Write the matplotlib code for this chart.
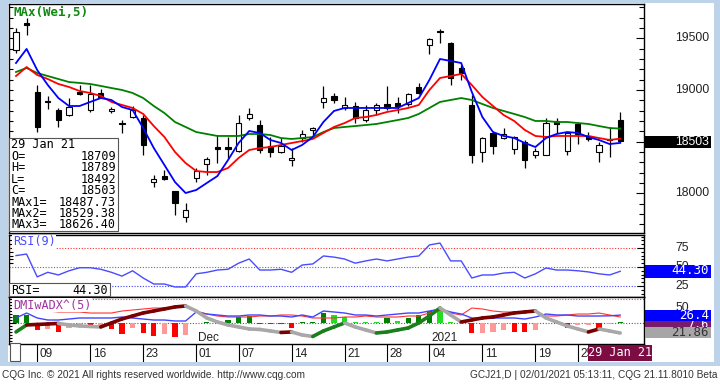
import matplotlib
matplotlib.use('Agg')
import matplotlib.pyplot as plt
from matplotlib.patches import Rectangle
from matplotlib.collections import LineCollection
from matplotlib.transforms import Affine2D, blended_transform_factory
import numpy as np
import datetime as dt

# ---------------- data ----------------
dates = ['2020-11-05', '2020-11-06', '2020-11-09', '2020-11-10', '2020-11-11', '2020-11-12', '2020-11-13',
         '2020-11-16', '2020-11-17', '2020-11-18', '2020-11-19', '2020-11-20', '2020-11-23', '2020-11-24',
         '2020-11-25', '2020-11-27', '2020-11-30', '2020-12-01', '2020-12-02', '2020-12-03', '2020-12-04',
         '2020-12-07', '2020-12-08', '2020-12-09', '2020-12-10', '2020-12-11', '2020-12-14', '2020-12-15',
         '2020-12-16', '2020-12-17', '2020-12-18', '2020-12-21', '2020-12-22', '2020-12-23', '2020-12-24',
         '2020-12-28', '2020-12-29', '2020-12-30', '2020-12-31', '2021-01-04', '2021-01-05', '2021-01-06',
         '2021-01-07', '2021-01-08', '2021-01-11', '2021-01-12', '2021-01-13', '2021-01-14', '2021-01-15',
         '2021-01-19', '2021-01-20', '2021-01-21', '2021-01-22', '2021-01-25', '2021-01-26', '2021-01-27',
         '2021-01-28', '2021-01-29']

opens = [19387, 19650, 18981, 18890, 18806, 18758, 18980, 18806, 18970, 18800, 18680, 18738, 18729, 18109,
         18168, 18022, 17771, 18148, 18284, 18448, 18448, 18410, 18729, 18661, 18458, 18400, 18322, 18535,
         18610, 18884, 18942, 18826, 18845, 18710, 18806, 18865, 18874, 18865, 19029, 19436, 19570, 19455,
         19213, 18855, 18400, 18584, 18535, 18429, 18497, 18371, 18371, 18700, 18410, 18671, 18555, 18400,
         18529, 18709]
highs = [19600, 19700, 19048, 18942, 18826, 18923, 19050, 19048, 19010, 18840, 18709, 18845, 18758, 18177,
         18226, 18022, 17906, 18245, 18351, 18564, 18545, 18758, 18826, 18710, 18545, 18535, 18439, 18613,
         18642, 19039, 18971, 18932, 18884, 18855, 18874, 19039, 18932, 18971, 19068, 19503, 19590, 19465,
         19242, 18952, 18545, 18603, 18632, 18555, 18516, 18439, 18729, 18729, 18594, 18690, 18594, 18497,
         18642, 18789]
lows = [19360, 19530, 18593, 18816, 18640, 18750, 18950, 18787, 18923, 18780, 18584, 18729, 18371, 18061,
        18129, 17790, 17722, 18109, 18177, 18293, 18342, 18400, 18710, 18390, 18352, 18390, 18264, 18497,
        18564, 18826, 18874, 18806, 18681, 18690, 18758, 18806, 18777, 18845, 18961, 19349, 19455, 19048,
        19097, 18293, 18303, 18380, 18526, 18380, 18245, 18342, 18371, 18584, 18371, 18477, 18506, 18303,
        18352, 18492]
closes = [19564, 19630, 18642, 18880, 18710, 18835, 18960, 18961, 18932, 18820, 18670, 18806, 18468, 18138,
          18138, 17906, 17838, 18216, 18332, 18429, 18429, 18681, 18768, 18419, 18400, 18458, 18342, 18574,
          18630, 18923, 18903, 18855, 18729, 18806, 18855, 18826, 18845, 18961, 18971, 19494, 19560, 19116,
          19165, 18371, 18535, 18458, 18574, 18545, 18322, 18410, 18681, 18671, 18584, 18574, 18526, 18468,
          18520, 18503]

ma1 = [19261, 19397, 19193, 19048, 18922, 18845, 18845, 18884, 18922, 18903, 18835, 18806, 18632, 18438,
       18274, 18109, 18003, 18032, 18100, 18167, 18322, 18487, 18603, 18584, 18516, 18487, 18419, 18468,
       18545, 18690, 18797, 18826, 18826, 18826, 18826, 18826, 18826, 18874, 18922, 19097, 19300, 19281,
       19261, 18981, 18738, 18593, 18555, 18535, 18487, 18448, 18535, 18574, 18593, 18584, 18545, 18516,
       18477, 18487.73]
ma2 = [19135, 19222, 19145, 19106, 19058, 19029, 18990, 18971, 18942, 18884, 18855, 18826, 18768, 18651,
       18545, 18400, 18293, 18216, 18206, 18206, 18245, 18342, 18419, 18438, 18448, 18468, 18487, 18506,
       18526, 18584, 18642, 18680, 18729, 18738, 18758, 18787, 18806, 18826, 18855, 19000, 19116, 19135,
       19155, 19048, 18932, 18845, 18758, 18700, 18613, 18555, 18545, 18555, 18555, 18555, 18555, 18535,
       18516, 18529.38]
ma3 = [19174, 19213, 19164, 19135, 19106, 19077, 19068, 19058, 19039, 19019, 19000, 18971, 18922, 18845,
       18777, 18690, 18642, 18593, 18574, 18555, 18555, 18555, 18574, 18574, 18564, 18535, 18526, 18535,
       18545, 18593, 18632, 18642, 18651, 18661, 18671, 18690, 18709, 18729, 18768, 18826, 18884, 18903,
       18922, 18903, 18864, 18826, 18797, 18768, 18738, 18700, 18700, 18690, 18690, 18680, 18671, 18651,
       18632, 18626.40]

rsi = [65, 67, 37, 43, 39.5, 45, 49, 49, 47, 43, 38, 45, 35.5, 27.6, 27.6, 23.7, 23.7, 41, 43, 46, 47, 55,
       60.5, 46, 46, 47, 43, 52.6, 54, 64.5, 63, 60.5, 55, 58, 60.5, 58, 60.5, 63, 64.5, 79, 81.5, 58, 58,
       35.5, 39.5, 39.5, 42, 43, 35.5, 41, 48.7, 46, 46, 45, 43.5, 41, 39.5, 44.30]

di_plus = [16.7, 33.3, 16.7, 10.0, 10.0, 13.3, 16.7, 16.7, 16.7, 16.7, 20.0, 16.7, 13.3, 10.0, 10.0, 6.7,
           6.7, 36.7, 30.0, 26.7, 23.3, 23.3, 26.7, 26.7, 23.3, 23.3, 20.0, 26.7, 20.0, 40.0, 36.7, 33.3,
           26.7, 26.7, 23.3, 26.7, 30.0, 33.3, 33.3, 40.0, 46.7, 36.7, 30.0, 16.7, 16.7, 16.7, 16.7, 16.7,
           13.3, 20.0, 30.0, 26.7, 26.7, 23.3, 23.3, 23.3, 24.0, 26.4]
di_minus = [43.3, 43.3, 40.0, 40.0, 36.7, 36.7, 36.7, 33.3, 33.3, 33.3, 40.0, 43.3, 46.7, 50.0, 50.0, 53.3,
            53.3, 40.0, 30.0, 23.3, 20.0, 20.0, 20.0, 23.3, 23.3, 26.7, 26.7, 23.3, 16.7, 16.7, 16.7, 20.0,
            20.0, 23.3, 20.0, 20.0, 20.0, 23.3, 23.3, 33.3, 43.3, 33.3, 26.7, 50.0, 46.7, 40.0, 36.7, 36.7,
            36.7, 40.0, 23.3, 23.3, 26.7, 30.0, 30.0, 33.3, 26.7, 20.0]
dmi_hist = [26.7, 26.7, -23.3, -20, -30, -16.7, -13.3, -16.7, -16.7, -20, -36.7, -16.7, -33.3, -43.3, -36.7,
            -46.7, -40, 0, 3.3, 6.7, 10, 20, 23.3, -3.3, -3.3, -3.3, -16.7, 3.3, 3.3, 33.3, 26.7, 20, 3.3,
            3.3, 3.3, 16.7, 6.7, 16.7, 26.7, 40, 46.7, 3.3, 0, -33.3, -33.3, -30, -23.3, -30, -30, -23.3, 0,
            0, -16.7, -6.7, -6.7, -20, -3.3, 2]
hist_state = ['G', 'G', 'R', 'r', 'R', 'r', 'r', 'R', 'r', 'R', 'R', 'r', 'R', 'R', 'r', 'R', 'r', 'G', 'G',
              'G', 'G', 'G', 'G', 'R', 'R', 'R', 'R', 'G', 'G', 'G', 'g', 'g', 'g', 'g', 'g', 'G', 'g', 'G',
              'G', 'G', 'g', 'g', 'g', 'R', 'r', 'r', 'r', 'R', 'R', 'r', 'r', 'r', 'R', 'r', 'r', 'R', 'r',
              'G']
adx = [22.9, 29.9, 30.4, 30.9, 31.4, 29.9, 28.9, 28.4, 27.9, 31.9, 35.9, 38.9, 41.9, 43.9, 45.9, 47.9, 48.9,
       43.9, 36.9, 32.9, 29.9, 27.9, 25.9, 25.4, 23.9, 22.4, 22.9, 19.9, 18.4, 23.9, 27.9, 31.9, 27.9, 24.9,
       21.9, 22.9, 24.9, 26.9, 31.9, 38.9, 46.9, 39.9, 32.9, 34.9, 36.9, 37.9, 39.9, 41.9, 42.9, 43.9, 36.9,
       32.9, 28.9, 25.9, 22.9, 25.9, 23.9, 21.86]
adx_state = ['G', 'G', 'R', 'R', 'R', 'N', 'N', 'N', 'N', 'R', 'R', 'R', 'R', 'R', 'R', 'R', 'R', 'N', 'N',
             'N', 'N', 'N', 'N', 'N', 'N', 'N', 'R', 'N', 'N', 'G', 'G', 'G', 'N', 'N', 'N', 'G', 'G', 'G',
             'G', 'G', 'G', 'N', 'N', 'R', 'R', 'R', 'R', 'R', 'R', 'R', 'N', 'N', 'N', 'N', 'N', 'R', 'N',
             'N']
dmi_last_box = '7.6'

week_ticks = ['2020-11-09', '2020-11-16', '2020-11-23', '2020-12-01', '2020-12-07', '2020-12-14',
              '2020-12-21', '2020-12-28', '2021-01-04', '2021-01-11', '2021-01-19', '2021-01-25']
month_marks = [('2020-12-01', 'Dec'), ('2021-01-04', '2021')]
price_labels = [18000, 19000, 19500]
rsi_labels = [25, 50, 75]

footer_left = 'CQG Inc. \u00a9 2021 All rights reserved worldwide. http://www.cqg.com'
footer_right = 'GCJ21,D | 02/01/2021 05:13:11, CQG 21.11.8010 Beta'

# ---------------- layout helpers ----------------
W, H = 720, 384
fig = plt.figure(figsize=(7.2, 3.84), dpi=100)
fig.patch.set_facecolor('white')
pix = Affine2D().scale(1 / W, -1 / H).translate(0, 1) + fig.transFigure

MONO = 'DejaVu Sans Mono'
SANS = 'Liberation Sans'


def box(x0, y0, x1, y1):
    return [x0 / W, 1 - y1 / H, (x1 - x0) / W, (y1 - y0) / H]


X_FIRST, X_STEP = 16.0, 10.6
PX_L, PX_R = 9, 644
XLIM = ((PX_L - X_FIRST) / X_STEP, (PX_R - X_FIRST) / X_STEP)

n = len(dates)
idx = np.arange(n)
o = np.array(opens, float)
h = np.array(highs, float)
l = np.array(lows, float)
c = np.array(closes, float)


def style_panel(ax):
    ax.set_xlim(*XLIM)
    ax.set_xticks([])
    for s in ax.spines.values():
        s.set_color('black')
        s.set_linewidth(1.0)
    ax.set_facecolor('white')


def right_ticks(ax, major, minor, maj_len=5, min_len=2.5):
    ax.yaxis.tick_right()
    ax.set_yticks(major)
    ax.set_yticks(minor, minor=True)
    ax.tick_params(axis='y', which='major', direction='in', length=maj_len, width=0.8, labelright=False)
    ax.tick_params(axis='y', which='minor', direction='in', length=min_len, width=0.8)


def left_ticks(ax, ticks):
    sec = ax.secondary_yaxis('left')
    sec.set_yticks(ticks)
    sec.tick_params(direction='in', length=3, width=0.8, labelleft=False)
    sec.spines['left'].set_visible(False)


# ---------------- frame ----------------
frame_col = '#bcd3ea'
for (x0, y0, x1, y1) in [(0, 0, 8, 366), (714, 0, 720, 366), (0, 0, 720, 3), (0, 362, 720, 366)]:
    fig.add_artist(Rectangle((x0, y0), x1 - x0, y1 - y0, transform=pix, color=frame_col, lw=0, zorder=0.5))

# ---------------- main price panel ----------------
ax = fig.add_axes(box(PX_L, 4, PX_R, 233))
style_panel(ax)
ax.set_ylim(17616, 19832)
up = c >= o
ax.vlines(idx, l, h, color='black', lw=0.9, zorder=2)
body_h = np.maximum(np.abs(c - o), 8)
ax.bar(idx, body_h, bottom=np.minimum(o, c), width=0.5,
       color=np.where(up, 'white', 'black'), edgecolor='black', linewidth=0.8, zorder=3)
ax.plot(idx, ma3, color='#008000', lw=1.3, zorder=4)
ax.plot(idx, ma2, color='#ff0000', lw=1.3, zorder=4)
ax.plot(idx, ma1, color='#0000ff', lw=1.3, zorder=4)
right_ticks(ax, [18000, 18500, 19000, 19500], np.arange(17700, 19900, 100), maj_len=6, min_len=3.5)
left_ticks(ax, np.arange(17700, 19900, 100))

bt = blended_transform_factory(pix, ax.transData)
for v in price_labels:
    ax.text(675, v, str(v), transform=bt, ha='left', va='center', fontsize=8.8,
            family=SANS, color='#222222', clip_on=False)

ax.text(13, 12, 'MAx(Wei,5)', transform=pix, ha='left', va='center', fontsize=9,
        family=MONO, color='#118811', fontweight='bold', zorder=6)

# info box
fig.add_artist(Rectangle((9, 138), 109, 93, transform=pix, facecolor='white', edgecolor='#555555',
                         lw=0.8, zorder=4))
d_last = dt.datetime.strptime(dates[-1], '%Y-%m-%d')
info = [('O=', f'{opens[-1]:d}'), ('H=', f'{highs[-1]:d}'), ('L=', f'{lows[-1]:d}'),
        ('C=', f'{closes[-1]:d}'), ('MAx1=', f'{ma1[-1]:.2f}'), ('MAx2=', f'{ma2[-1]:.2f}'),
        ('MAx3=', f'{ma3[-1]:.2f}')]
fig.text(11, 145, d_last.strftime('%d %b %y'), transform=pix, ha='left', va='center', fontsize=8.5,
         family=MONO, color='black', zorder=5)
for k, (lab, val) in enumerate(info):
    yy = 156.5 + 11.4 * k
    fig.text(11, yy, lab, transform=pix, ha='left', va='center', fontsize=8.5, family=MONO,
             color='black', zorder=5)
    fig.text(116, yy, val, transform=pix, ha='right', va='center', fontsize=8.5, family=MONO,
             color='black', zorder=5)

# last price box
fig.add_artist(Rectangle((645, 136), 66, 12, transform=pix, color='black', lw=0, zorder=4))
fig.text(709, 142, f'{closes[-1]:d}', transform=pix, ha='right', va='center', fontsize=8.8,
         family=SANS, color='white', zorder=5)

# ---------------- RSI panel ----------------
ar = fig.add_axes(box(PX_L, 235, PX_R, 297))
style_panel(ar)
ar.set_ylim(10.5, 92.1)
ar.axhline(75, color='#ff3030', lw=0.8, ls=(0, (1, 1.5)), zorder=1)
ar.axhline(50, color='#707070', lw=0.8, ls=(0, (1, 1.5)), zorder=1)
ar.axhline(25, color='#4040ff', lw=0.8, ls=(0, (1, 1.5)), zorder=1)
ar.plot(idx, rsi, color='#4a4aff', lw=1.0, zorder=3)
right_ticks(ar, rsi_labels, np.arange(15, 95, 5))
left_ticks(ar, np.arange(55, 90, 5))
bt_r = blended_transform_factory(pix, ar.transData)
for v in rsi_labels:
    ar.text(675, v, str(v), transform=bt_r, ha='left', va='center', fontsize=8.8, family=SANS,
            color='#222222', clip_on=False)
ar.text(13, 242, 'RSI(9)', transform=pix, ha='left', va='center', fontsize=8.5, family=MONO,
        color='#4a4aff', zorder=6, bbox=dict(facecolor='white', edgecolor='none', pad=0.5))
fig.add_artist(Rectangle((9, 283), 101, 13, transform=pix, facecolor='white', edgecolor='#555555',
                         lw=0.8, zorder=4))
fig.text(11, 290, 'RSI=', transform=pix, ha='left', va='center', fontsize=8.5, family=MONO,
         color='black', zorder=5)
fig.text(108, 290, f'{rsi[-1]:.2f}', transform=pix, ha='right', va='center', fontsize=8.5,
         family=MONO, color='black', zorder=5)
fig.add_artist(Rectangle((645, 265), 66, 12.5, transform=pix, color='#0000ff', lw=0, zorder=4))
fig.text(709, 271, f'{rsi[-1]:.2f}', transform=pix, ha='right', va='center', fontsize=9,
         family=MONO, color='white', zorder=5)

# ---------------- DMI panel ----------------
adm = fig.add_axes(box(PX_L, 297, PX_R, 344))
style_panel(adm)
adm.set_ylim(-70, 86.7)
adm.axhline(80, color='#ff3030', lw=0.8, ls=(0, (1, 1.5)), zorder=1)
adm.axhline(0, color='#606060', lw=0.8, ls=(0, (1, 1.5)), zorder=1)
hist_cols = {'G': '#008000', 'g': '#22dd22', 'R': '#ff0000', 'r': '#ff9898'}
adm.bar(idx, dmi_hist, width=0.5, color=[hist_cols[s] for s in hist_state], zorder=2)
adm.plot(idx, di_minus, color='#ff3333', lw=0.8, zorder=3)
adm.plot(idx, di_plus, color='#4444ff', lw=1.0, zorder=3)
right_ticks(adm, [0, 50], np.arange(-60, 90, 10))
bt_d = blended_transform_factory(pix, adm.transData)
adm.text(675, 50, '50', transform=bt_d, ha='left', va='center', fontsize=8.8, family=SANS,
         color='#222222', clip_on=False)

aadx = adm.twinx()
aadx.set_ylim(10.86, 57.86)
aadx.set_xlim(*XLIM)
aadx.axis('off')
adx_cols = {'G': '#1a7f1a', 'R': '#7a0000', 'N': '#a8a8a8'}
pts = np.column_stack([idx, adx])
segs = [pts[i - 1:i + 1] for i in range(1, n)]
lc = LineCollection(segs, colors=[adx_cols[s] for s in adx_state[1:]], linewidths=2.6,
                    capstyle='round', zorder=4)
aadx.add_collection(lc)

adm.text(13, 305, 'DMIwADX^(5)', transform=pix, ha='left', va='center', fontsize=8.5, family=MONO,
         color='#a0339f', zorder=6, bbox=dict(facecolor='white', edgecolor='none', pad=0.5))
for ds, lab in month_marks:
    i = dates.index(ds)
    adm.text(i + 0.2, -50, lab, ha='left', va='center', fontsize=8.5, family=SANS, color='#222222',
             zorder=6)

# right-hand DMI value boxes
fig.add_artist(Rectangle((645, 310), 66, 11, transform=pix, color='#0000ff', lw=0, zorder=4.8))
fig.text(709, 315.5, f'{di_plus[-1]:.1f}', transform=pix, ha='right', va='center', fontsize=9,
         family=MONO, color='white', zorder=4.9)
fig.add_artist(Rectangle((645, 321), 66, 6.5, transform=pix, color='#7a1a6a', lw=0, zorder=4))
fig.text(709, 325, dmi_last_box, transform=pix, ha='right', va='center', fontsize=8.5,
         family=MONO, color='white', zorder=4.5)
fig.add_artist(Rectangle((645, 327), 66, 10.5, transform=pix, color='#a6a6a6', lw=0, zorder=4.6))
fig.text(709, 332.5, f'{adx[-1]:.2f}', transform=pix, ha='right', va='center', fontsize=9,
         family=MONO, color='#333333', zorder=4.7)

# ---------------- date axis ----------------
axd = fig.add_axes(box(PX_L, 344, PX_R, 362))
axd.set_xlim(*XLIM)
axd.set_ylim(0, 1)
axd.axis('off')
for ds in week_ticks:
    i = dates.index(ds)
    axd.axvline(i, color='black', lw=0.8)
    axd.text(i + 0.25, 0.45, ds[-2:], ha='left', va='center', fontsize=8.5, family=SANS,
             color='#222222')
fig.add_artist(Rectangle((10, 343), 10, 18, transform=pix, facecolor='white', edgecolor='#555555',
                         lw=0.8, zorder=4))
fig.add_artist(Rectangle((588, 345), 64, 15.5, transform=pix, color='#7d0c42', lw=0, zorder=4))
fig.text(620, 353, d_last.strftime('%d %b %y'), transform=pix, ha='center', va='center',
         fontsize=8.5, family=MONO, color='white', zorder=5)

# ---------------- footer ----------------
fig.text(2, 375, footer_left, transform=pix, ha='left', va='center', fontsize=7.3, family=SANS,
         color='#333333')
fig.text(718, 375, footer_right, transform=pix, ha='right', va='center', fontsize=7.3, family=SANS,
         color='#333333')

fig.savefig('out.png', dpi=100, facecolor=fig.get_facecolor())
